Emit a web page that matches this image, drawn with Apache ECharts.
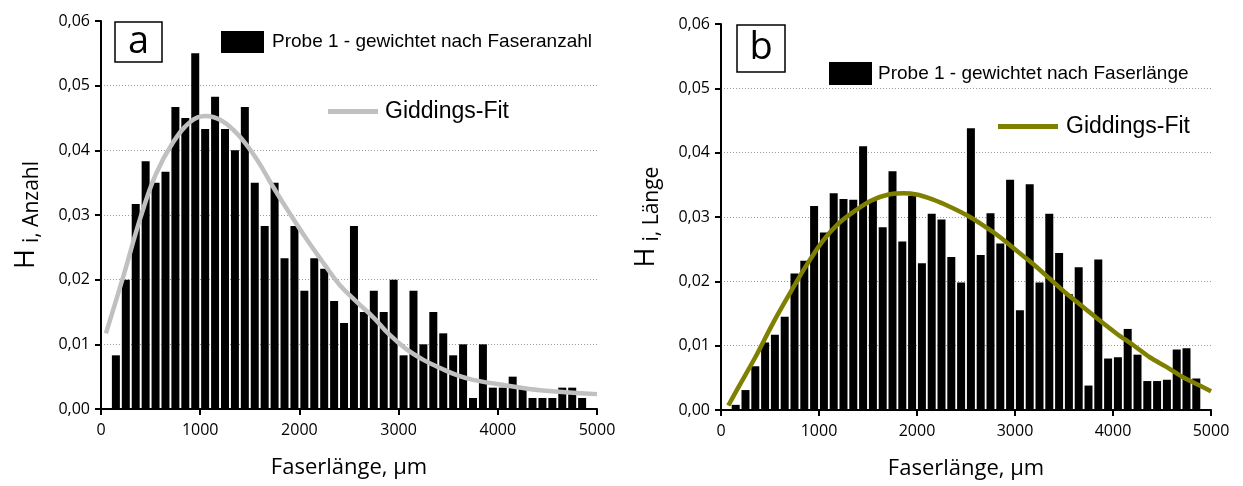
<!DOCTYPE html>
<html>
<head>
<meta charset="utf-8">
<script src="https://cdn.jsdelivr.net/npm/echarts@6/dist/echarts.min.js"></script>
<style>
  html, body { margin: 0; padding: 0; background: #fff; }
  #main { width: 1243px; height: 486px; }
</style>
</head>
<body>
<div id="main"></div>
<script>
// Klassenmitten in µm (100 µm Klassen)
var binCenters = [150, 250, 350, 450, 550, 650, 750, 850, 950, 1050,
  1150, 1250, 1350, 1450, 1550, 1650, 1750, 1850, 1950, 2050,
  2150, 2250, 2350, 2450, 2550, 2650, 2750, 2850, 2950, 3050,
  3150, 3250, 3350, 3450, 3550, 3650, 3750, 3850, 3950, 4050,
  4150, 4250, 4350, 4450, 4550, 4650, 4750, 4850];

// a: gewichtet nach Faseranzahl
var hAnzahl = [0.0083, 0.0200, 0.0317, 0.0383, 0.0350, 0.0367, 0.0467, 0.0450, 0.0550, 0.0433,
  0.0483, 0.0433, 0.0400, 0.0467, 0.0350, 0.0283, 0.0350, 0.0233, 0.0283, 0.0183,
  0.0233, 0.0217, 0.0167, 0.0133, 0.0283, 0.0150, 0.0183, 0.0150, 0.0200, 0.0083,
  0.0183, 0.0100, 0.0150, 0.0117, 0.0083, 0.0100, 0.0017, 0.0100, 0.0033, 0.0033,
  0.0050, 0.0033, 0.0017, 0.0017, 0.0017, 0.0033, 0.0033, 0.0017];

// b: gewichtet nach Faserlänge
var hLaenge = [0.0008, 0.0031, 0.0068, 0.0105, 0.0117, 0.0145, 0.0212, 0.0232, 0.0317, 0.0276,
  0.0337, 0.0328, 0.0327, 0.0410, 0.0328, 0.0284, 0.0371, 0.0262, 0.0333, 0.0228,
  0.0305, 0.0296, 0.0238, 0.0198, 0.0438, 0.0241, 0.0306, 0.0259, 0.0358, 0.0155,
  0.0351, 0.0198, 0.0305, 0.0244, 0.0180, 0.0222, 0.0038, 0.0234, 0.0080, 0.0082,
  0.0126, 0.0086, 0.0045, 0.0045, 0.0047, 0.0094, 0.0096, 0.0049];

// Giddings-Fit
var fitAnzahlX = [50, 225, 400, 550, 725, 900, 1050, 1225, 1400, 1575, 1725, 1900, 2075, 2250,
  2400, 2575, 2750, 2900, 3075, 3250, 3425, 3575, 3750, 4100, 4425, 5000];
var fitAnzahlY = [0.0117, 0.0205, 0.0297, 0.0362, 0.0412, 0.0444, 0.0453, 0.0445, 0.0421, 0.0385, 0.0346, 0.0303, 0.0262, 0.0224,
  0.0193, 0.0166, 0.0141, 0.0116, 0.0093, 0.0076, 0.0063, 0.0053, 0.0045, 0.0036, 0.0029, 0.0023];

var fitLaengeX = [75, 180, 350, 520, 690, 860, 1030, 1200, 1370, 1540, 1710, 1865, 1995, 2165,
  2335, 2505, 2675, 2845, 3015, 3185, 3355, 3525, 3695, 3865, 4035, 4205, 4375, 4545, 4715, 4885, 5000];
var fitLaengeY = [0.0007, 0.0036, 0.0082, 0.0132, 0.0178, 0.0222, 0.0261, 0.0290, 0.0310, 0.0326, 0.0335, 0.0337, 0.0335, 0.0327,
  0.0316, 0.0303, 0.0287, 0.0269, 0.0248, 0.0227, 0.0204, 0.0181, 0.0160, 0.0139, 0.0119, 0.0101, 0.0082, 0.0067, 0.0051, 0.0038, 0.0029];

var nameBarA = 'Probe 1 - gewichtet nach Faseranzahl';
var nameBarB = 'Probe 1 - gewichtet nach Faserlänge';
var nameFitA = 'Giddings-Fit';
var nameFitB = 'Giddings-Fit ';

function pairs(xs, ys) {
  return xs.map(function (x, i) { return [x, ys[i]]; });
}

function commaFmt(v) {
  return v.toFixed(2).replace('.', ',');
}

function xAxisCfg(idx) {
  return {
    gridIndex: idx,
    type: 'value',
    min: 0,
    max: 5000,
    interval: 1000,
    name: 'Faserlänge, µm',
    nameLocation: 'middle',
    nameGap: 48,
    nameTextStyle: { fontFamily: 'Open Sans', fontSize: 22, color: '#000' },
    axisLine: { lineStyle: { color: '#000', width: 2 } },
    axisTick: { inside: false, length: 6, lineStyle: { color: '#000', width: 2 } },
    axisLabel: { fontFamily: 'Open Sans', fontSize: 16, color: '#000', margin: 13, formatter: function (v) { return '' + v; } },
    splitLine: { show: false }
  };
}

function yAxisCfg(idx, sub) {
  return {
    gridIndex: idx,
    type: 'value',
    min: 0,
    max: 0.06,
    interval: 0.01,
    name: '{h|H}{s|' + sub + '}',
    nameLocation: 'middle',
    nameRotate: 90,
    nameGap: 58,
    nameTextStyle: {
      color: '#000',
      rich: {
        h: { fontFamily: 'Open Sans', fontSize: 27, color: '#000', verticalAlign: 'top', lineHeight: 30 },
        s: { fontFamily: 'Open Sans', fontSize: 21, color: '#000', verticalAlign: 'bottom', lineHeight: 30, padding: [26, 0, 0, 6] }
      }
    },
    axisLine: { show: true, lineStyle: { color: '#000', width: 2 } },
    axisTick: { show: true, inside: false, length: 6, lineStyle: { color: '#000', width: 2 } },
    axisLabel: { fontFamily: 'Open Sans', fontSize: 16, color: '#000', margin: 11, formatter: commaFmt },
    splitLine: {
      show: true,
      showMinLine: false,
      showMaxLine: false,
      lineStyle: { color: '#9a9a9a', width: 1, type: [1, 2] }
    }
  };
}

function legendCfg(name, icon, left, top, w, h, fontSize, gap) {
  return {
    data: [name],
    icon: icon,
    left: left,
    top: top,
    padding: 0,
    itemWidth: w,
    itemHeight: h,
    selectedMode: false,
    formatter: function (n) { return n.trim(); },
    textStyle: { fontFamily: 'Liberation Sans', fontSize: fontSize, color: '#000', padding: [0, 0, 0, gap] }
  };
}

function boxLabel(x, y, w, h, letter) {
  return {
    type: 'group',
    children: [
      { type: 'rect', shape: { x: x, y: y, width: w, height: h }, style: { fill: '#fff', stroke: '#000', lineWidth: 1.5 } },
      { type: 'text', x: x + w / 2, y: y + h / 2, style: { text: letter, fontFamily: 'Open Sans', fontSize: 38, fill: '#000', align: 'center', verticalAlign: 'middle' } }
    ]
  };
}

var chart = echarts.init(document.getElementById('main'), null, { renderer: 'canvas' });

var option = {
  backgroundColor: '#fff',
  animation: false,
  grid: [
    { left: 101, top: 21, width: 496, height: 388, outerBoundsMode: 'none' },
    { left: 721, top: 24, width: 490, height: 386, outerBoundsMode: 'none' }
  ],
  xAxis: [xAxisCfg(0), xAxisCfg(1)],
  yAxis: [yAxisCfg(0, 'i, Anzahl'), yAxisCfg(1, 'i, Länge')],
  legend: [
    legendCfg(nameBarA, 'rect', 221, 31, 43, 22, 19, 3),
    legendCfg(nameFitA, 'rect', 328, 100, 50, 5, 23, 2),
    legendCfg(nameBarB, 'rect', 829, 62, 43, 23, 19, 1),
    legendCfg(nameFitB, 'rect', 998, 115, 60, 5, 23, 3)
  ],
  graphic: [
    boxLabel(115, 22, 47, 40, 'a'),
    boxLabel(737, 25, 48, 47, 'b')
  ],
  series: [
    {
      name: nameBarA,
      type: 'bar',
      xAxisIndex: 0,
      yAxisIndex: 0,
      barWidth: 8,
      itemStyle: { color: '#000' },
      data: pairs(binCenters, hAnzahl)
    },
    {
      name: nameFitA,
      type: 'line',
      xAxisIndex: 0,
      yAxisIndex: 0,
      smooth: 0.4,
      symbol: 'none',
      lineStyle: { color: '#c0c0c0', width: 4.5 },
      itemStyle: { color: '#c0c0c0' },
      data: pairs(fitAnzahlX, fitAnzahlY)
    },
    {
      name: nameBarB,
      type: 'bar',
      xAxisIndex: 1,
      yAxisIndex: 1,
      barWidth: 8,
      itemStyle: { color: '#000' },
      data: pairs(binCenters, hLaenge)
    },
    {
      name: nameFitB,
      type: 'line',
      xAxisIndex: 1,
      yAxisIndex: 1,
      smooth: 0.3,
      symbol: 'none',
      lineStyle: { color: '#808000', width: 4.5 },
      itemStyle: { color: '#808000' },
      data: pairs(fitLaengeX, fitLaengeY)
    }
  ]
};

chart.setOption(option);
</script>
</body>
</html>
